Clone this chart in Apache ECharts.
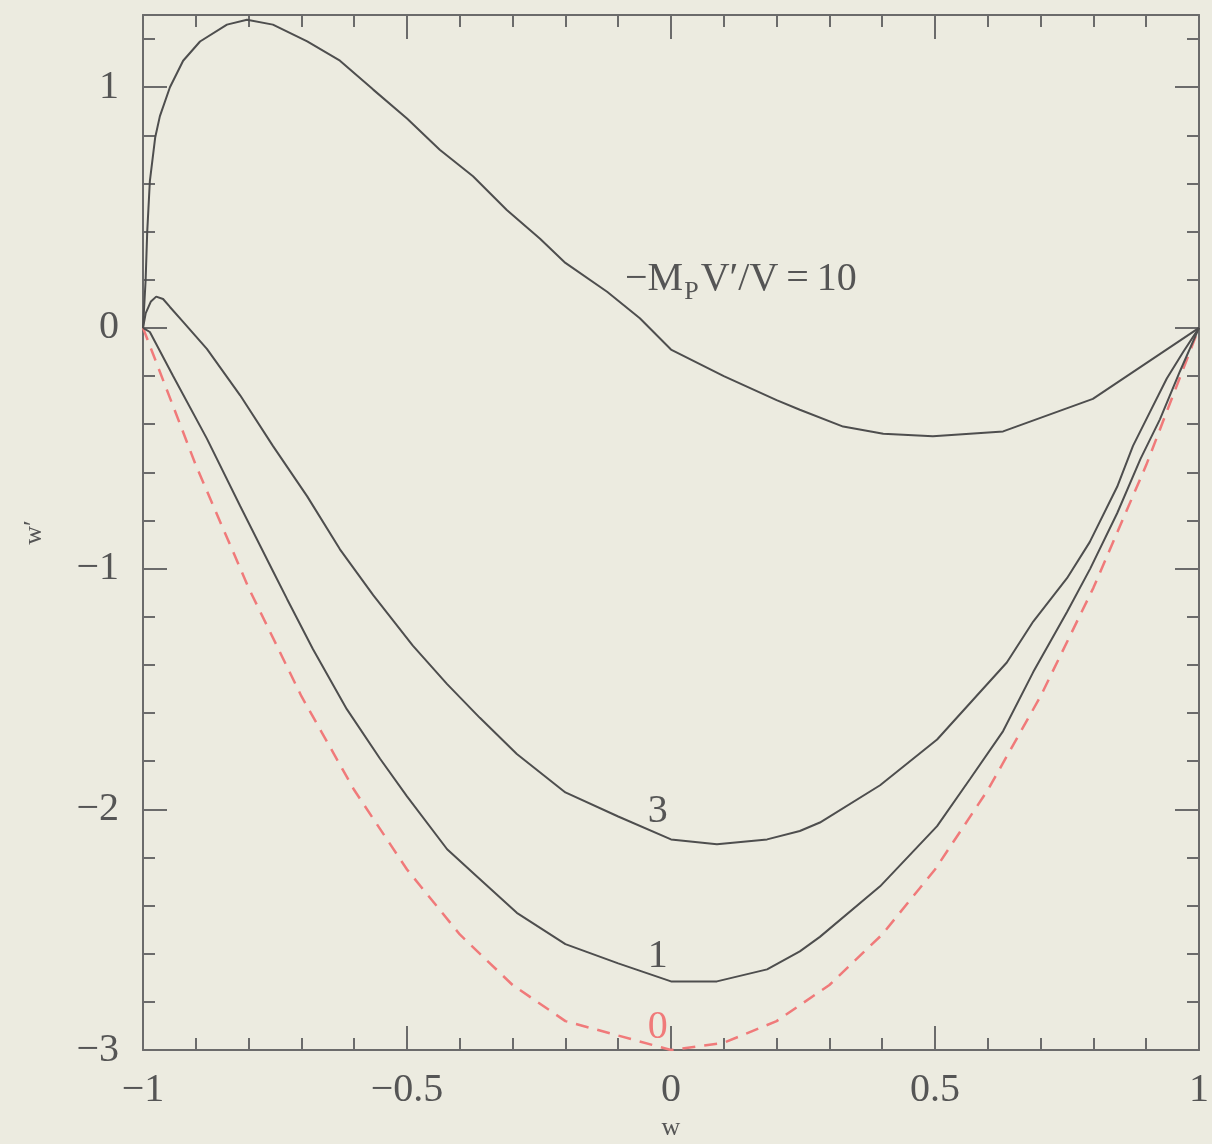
<!DOCTYPE html>
<html><head><meta charset="utf-8">
<script src="https://cdn.jsdelivr.net/npm/echarts@6/dist/echarts.min.js"></script>
<style>html,body{margin:0;padding:0;background:#ecebe0}#c{width:1212px;height:1144px}</style>
</head><body><div id="c"></div>
<script>
// ---- data ----
const w10 = [-1, -0.995, -0.992, -0.987, -0.977, -0.968, -0.949, -0.924, -0.892, -0.841, -0.803, -0.754, -0.689, -0.627, -0.564, -0.5, -0.438, -0.375, -0.311, -0.248, -0.2, -0.121, -0.059, 0, 0.1, 0.2, 0.244, 0.326, 0.402, 0.496, 0.629, 0.799, 1];
const y10 = [0, 0.2, 0.40, 0.61, 0.79, 0.88, 1.0, 1.11, 1.19, 1.26, 1.28, 1.26, 1.19, 1.11, 0.99, 0.87, 0.74, 0.63, 0.49, 0.37, 0.27, 0.15, 0.04, -0.09, -0.2, -0.3, -0.34, -0.41, -0.44, -0.45, -0.43, -0.295, 0];

const w3 = [-1, -0.995, -0.985, -0.975, -0.962, -0.949, -0.924, -0.879, -0.816, -0.754, -0.689, -0.627, -0.564, -0.489, -0.424, -0.362, -0.292, -0.2, -0.1, 0, 0.087, 0.182, 0.244, 0.282, 0.396, 0.504, 0.636, 0.686, 0.75, 0.793, 0.845, 0.875, 0.907, 0.939, 0.97, 1];
const y3 = [0, 0.06, 0.11, 0.13, 0.12, 0.087, 0.025, -0.087, -0.28, -0.49, -0.70, -0.92, -1.11, -1.32, -1.48, -1.62, -1.77, -1.93, -2.03, -2.125, -2.145, -2.125, -2.09, -2.055, -1.90, -1.71, -1.39, -1.22, -1.04, -0.89, -0.66, -0.49, -0.35, -0.21, -0.10, 0];

const w1 = [-1, -0.987, -0.943, -0.879, -0.816, -0.754, -0.727, -0.678, -0.614, -0.551, -0.5, -0.424, -0.367, -0.292, -0.2, -0.1, 0, 0.087, 0.182, 0.244, 0.282, 0.396, 0.504, 0.566, 0.629, 0.686, 0.75, 0.794, 0.845, 0.889, 0.926, 0.964, 1];
const y1 = [0, -0.017, -0.20, -0.46, -0.74, -1.01, -1.127, -1.335, -1.584, -1.79, -1.946, -2.166, -2.28, -2.43, -2.56, -2.64, -2.715, -2.715, -2.665, -2.59, -2.53, -2.32, -2.07, -1.875, -1.675, -1.43, -1.18, -1.00, -0.77, -0.545, -0.38, -0.18, 0];

const w0 = [-1, -0.9, -0.8, -0.7, -0.6, -0.5, -0.4, -0.3, -0.2, 0, 0.1, 0.2, 0.3, 0.4, 0.5, 0.6, 0.7, 0.8, 0.9, 1];
const y0 = [0, -0.57, -1.08, -1.53, -1.92, -2.25, -2.52, -2.73, -2.88, -3.0, -2.97, -2.88, -2.73, -2.52, -2.25, -1.92, -1.53, -1.08, -0.57, 0];

const xTickLabels = [-1, -0.5, 0, 0.5, 1];
const yTickLabels = [-3, -2, -1, 0, 1];
const curveLabels = ['3', '1', '0'];

// ---- style ----
const FONT = '"Liberation Serif", "DejaVu Serif", serif';
const AX = '#6b6b6b';
const TXT = '#555555';
const LINE = '#4e4e4e';
const RED = '#f07a7a';

const zip = (a, b) => a.map((v, i) => [v, b[i]]);
const fmt = (list) => (v) => list.some(t => Math.abs(t - v) < 1e-9) ? String(v).replace('-', '\u2212') : '';

const axLine = { show: true, onZero: false, lineStyle: { color: AX, width: 2 } };
const noLine = { show: false, onZero: false };
const tickMajor = { show: true, inside: true, length: 24, lineStyle: { color: AX, width: 2 } };
const tickMinor = { show: true, inside: true, length: 12, lineStyle: { color: AX, width: 2 } };
const noLabel = { show: false };

const chart = echarts.init(document.getElementById('c'), null, { renderer: 'canvas' });
chart.setOption({
  backgroundColor: '#ecebe0',
  animation: false,
  grid: { left: 143, right: 13, top: 15, bottom: 94, containLabel: false, outerBoundsMode: 'none' },
  xAxis: [
    { type: 'value', position: 'bottom', min: -1, max: 1, interval: 0.5,
      axisLine: axLine, axisTick: tickMajor,
      minorTick: { show: true, splitNumber: 5, length: 12, lineStyle: { color: AX, width: 2 } },
      splitLine: { show: false }, minorSplitLine: { show: false },
      axisLabel: { formatter: fmt(xTickLabels), fontFamily: FONT, fontSize: 40, color: TXT, margin: 20 },
      name: 'w', nameLocation: 'middle', nameGap: 64,
      nameTextStyle: { fontFamily: FONT, fontSize: 26, color: TXT } },
    { type: 'value', position: 'top', min: -1, max: 1, interval: 0.5,
      axisLine: axLine, axisTick: tickMajor,
      minorTick: { show: true, splitNumber: 5, length: 12, lineStyle: { color: AX, width: 2 } },
      splitLine: { show: false }, axisLabel: noLabel }
  ],
  yAxis: [
    { type: 'value', position: 'left', min: -3, max: 1.3, interval: 1,
      axisLine: axLine, axisTick: tickMajor, splitLine: { show: false },
      axisLabel: { formatter: fmt(yTickLabels), fontFamily: FONT, fontSize: 40, color: TXT, margin: 24 },
      name: 'w\u2032', nameLocation: 'middle', nameRotate: 90, nameGap: 96,
      nameTextStyle: { fontFamily: FONT, fontSize: 26, color: TXT } },
    { type: 'value', position: 'left', min: -3, max: 1.3, interval: 0.2,
      axisLine: noLine, axisTick: tickMinor, splitLine: { show: false }, axisLabel: noLabel },
    { type: 'value', position: 'right', min: -3, max: 1.3, interval: 1,
      axisLine: axLine, axisTick: tickMajor, splitLine: { show: false }, axisLabel: noLabel },
    { type: 'value', position: 'right', min: -3, max: 1.3, interval: 0.2,
      axisLine: noLine, axisTick: tickMinor, splitLine: { show: false }, axisLabel: noLabel }
  ],
  series: [
    { name: '10', type: 'line', data: zip(w10, y10), showSymbol: false, smooth: false,
      lineStyle: { color: LINE, width: 2 }, z: 3 },
    { name: '3', type: 'line', data: zip(w3, y3), showSymbol: false, smooth: false,
      lineStyle: { color: LINE, width: 2 }, z: 3 },
    { name: '1', type: 'line', data: zip(w1, y1), showSymbol: false, smooth: false,
      lineStyle: { color: LINE, width: 2 }, z: 3 },
    { name: '0', type: 'line', data: zip(w0, y0), showSymbol: false, smooth: false,
      lineStyle: { color: RED, width: 2.5, type: [13, 9] }, z: 2 }
  ]
});

// ---- annotations ----
const px = (w, y) => chart.convertToPixel({ xAxisIndex: 0, yAxisIndex: 0 }, [w, y]);
const ctx = document.createElement('canvas').getContext('2d');
const measure = (t, size) => { ctx.font = size + 'px ' + FONT; return ctx.measureText(t).width; };

const a = px(-0.087, 0.2);
const p1 = '\u2212M', p2 = 'P', p3 = 'V\u2032/V\u2009=\u200910';
const x1 = a[0], x2 = x1 + measure(p1, 40) + 1, x3 = x2 + measure(p2, 26) + 2;
const baseStyle = { fontFamily: FONT, fill: TXT, textVerticalAlign: 'middle' };

const l3 = px(-0.025, -2.01), l1 = px(-0.025, -2.61), l0 = px(-0.025, -2.905);
chart.setOption({
  graphic: [
    { type: 'text', x: x1, y: a[1], style: Object.assign({}, baseStyle, { text: p1, fontSize: 40 }) },
    { type: 'text', x: x2, y: a[1] + 12, style: Object.assign({}, baseStyle, { text: p2, fontSize: 26 }) },
    { type: 'text', x: x3, y: a[1], style: Object.assign({}, baseStyle, { text: p3, fontSize: 40 }) },
    { type: 'text', x: l3[0], y: l3[1], style: Object.assign({}, baseStyle, { text: curveLabels[0], fontSize: 40, textAlign: 'center' }) },
    { type: 'text', x: l1[0], y: l1[1], style: Object.assign({}, baseStyle, { text: curveLabels[1], fontSize: 40, textAlign: 'center' }) },
    { type: 'text', x: l0[0], y: l0[1], style: Object.assign({}, baseStyle, { text: curveLabels[2], fontSize: 40, textAlign: 'center', fill: RED }) }
  ]
});
</script></body></html>
